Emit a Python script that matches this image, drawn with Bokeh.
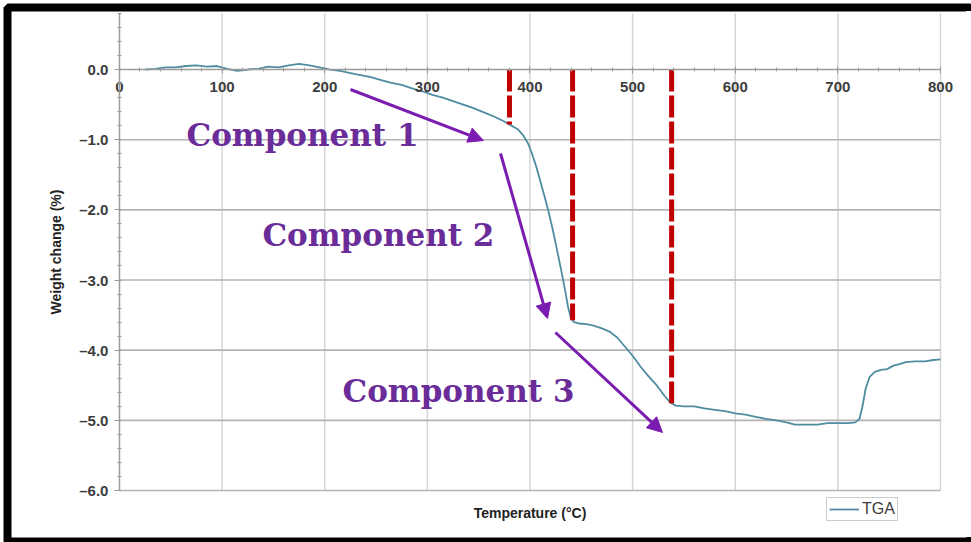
import numpy as np
from bokeh.plotting import figure
from bokeh.models import (LinearAxis, SingleIntervalTicker, FixedTicker,
                          CustomJSTickFormatter, Arrow, NormalHead, Legend, LegendItem)
from bokeh.core.properties import value
from bokeh.embed import file_html
from bokeh.resources import INLINE

# TGA trace: temperature (degC) vs weight change (%)
temperature = [25, 35, 45, 55, 65, 75, 85, 95, 105, 115, 125, 135, 145, 155, 165, 175,
               185, 195, 205, 215, 225, 235, 245, 255, 265, 275, 285, 295, 305, 315,
               325, 335, 345, 355, 365, 375, 382, 388, 393, 398, 402, 406, 410, 414,
               418, 422, 426, 430, 434, 437, 440, 443, 448, 455, 462, 470, 478, 485,
               492, 500, 508, 516, 524, 531, 537, 542, 550, 560, 570, 580, 590, 600,
               610, 620, 630, 640, 650, 658, 670, 680, 690, 700, 710, 717, 721, 724,
               727, 731, 736, 742, 748, 754, 760, 766, 775, 785, 793, 800]
weight_change = [0.00, 0.01, 0.03, 0.03, 0.05, 0.06, 0.04, 0.05, 0.01, -0.02, 0.00, 0.01,
                 0.04, 0.03, 0.06, 0.08, 0.06, 0.03, 0.00, -0.02, -0.05, -0.08, -0.11,
                 -0.15, -0.19, -0.22, -0.27, -0.31, -0.36, -0.40, -0.45, -0.50, -0.55,
                 -0.61, -0.67, -0.74, -0.80, -0.85, -0.93, -1.05, -1.20, -1.38, -1.59,
                 -1.80, -2.02, -2.27, -2.55, -2.83, -3.13, -3.38, -3.55, -3.60, -3.62,
                 -3.63, -3.65, -3.69, -3.74, -3.82, -3.94, -4.08, -4.24, -4.38, -4.51,
                 -4.65, -4.75, -4.79, -4.80, -4.80, -4.83, -4.85, -4.87, -4.90, -4.92,
                 -4.95, -4.98, -5.00, -5.03, -5.06, -5.06, -5.06, -5.04, -5.04, -5.04,
                 -5.03, -4.98, -4.80, -4.55, -4.38, -4.31, -4.28, -4.27, -4.22, -4.20,
                 -4.17, -4.16, -4.16, -4.14, -4.13]

# decomposition step boundaries (degC)
step_bounds = [380, 441.5, 538]

# annotation texts and arrows
component_labels = ["Component 1", "Component 2", "Component 3"]
label_x = [65.3, 139.3, 217.3]
label_y = [-0.937, -2.362, -4.586]
arrow_x0 = [225.1, 371.3, 424.8]
arrow_y0 = [-0.285, -1.197, -3.748]
arrow_x1 = [354.7, 417.1, 529.1]
arrow_y1 = [-1.012, -3.549, -5.173]

# grid positions
x_grid = [100, 200, 300, 400, 500, 600, 700, 800]
y_grid = [-1, -2, -3, -4, -5, -6]
x_bounds = (0, 800)
y_bounds = (-6, 0.8)

CURVE = "#4f8ca2"
AXIS_GREY = "#9c9c9c"
TEXT_GREY = "#3c3c3c"
PURPLE_TEXT = "#6a2c98"
PURPLE_ARROW = "#7a1cb0"

p = figure(width=971, height=542, output_backend="svg", toolbar_location=None,
           x_range=(-109.1, 830.2), y_range=(-6.727, 0.884),
           x_axis_type=None, y_axis_type=None,
           min_border_left=7, min_border_right=0, min_border_top=7, min_border_bottom=1)
p.outline_line_color = "black"
p.outline_line_width = 8
p.background_fill_color = "white"
p.border_fill_color = "white"
# the black frame is open on its right-hand side (top and bottom bands run through)
p.styles = {"clip-path": "polygon(0 0, 100% 0, 100% 11px, calc(100% - 5px) 11px, "
                         "calc(100% - 5px) calc(100% - 5px), 100% calc(100% - 5px), "
                         "100% 100%, 0 100%)"}

# grid lines restricted to the plotted box
p.segment(x0=x_grid, x1=x_grid, y0=y_bounds[0], y1=y_bounds[1],
          line_color="#d6d6d6", line_width=1.5)
p.segment(x0=x_bounds[0], x1=x_bounds[1], y0=y_grid, y1=y_grid,
          line_color="#b4b4b4", line_width=1.6)

fmt = CustomJSTickFormatter(code="""
    const s = Math.abs(tick) < 1e-9 ? '0.0' : tick.toFixed(1);
    return s.replace('-', '\u2013');
""")

# y axis pinned at x = 0
yax = LinearAxis(fixed_location=0, bounds=y_bounds,
                 ticker=SingleIntervalTicker(interval=1, num_minor_ticks=5),
                 formatter=fmt, axis_label="Weight change (%)")
yax.axis_line_color = AXIS_GREY
yax.axis_line_width = 1.5
yax.major_tick_line_color = AXIS_GREY
yax.major_tick_out = 5
yax.major_tick_in = 0
yax.minor_tick_line_color = AXIS_GREY
yax.minor_tick_out = 2
yax.minor_tick_in = 2
yax.major_label_standoff = 6
yax.major_label_text_font = "Liberation Sans"
yax.major_label_text_font_style = "bold"
yax.major_label_text_font_size = "15px"
yax.major_label_text_color = TEXT_GREY
yax.axis_label_standoff = 12
yax.axis_label_text_font = "Liberation Sans"
yax.axis_label_text_font_style = "bold"
yax.axis_label_text_font_size = "14px"
yax.axis_label_text_color = "#222222"
p.add_layout(yax, "left")

# x axis pinned at y = 0
xax = LinearAxis(fixed_location=0, bounds=x_bounds,
                 ticker=SingleIntervalTicker(interval=100, num_minor_ticks=5))
xax.axis_line_color = AXIS_GREY
xax.axis_line_width = 1.5
xax.major_tick_line_color = AXIS_GREY
xax.major_tick_out = 4
xax.major_tick_in = 3
xax.minor_tick_line_color = AXIS_GREY
xax.minor_tick_out = 2
xax.minor_tick_in = 2
xax.major_label_standoff = 8
xax.major_label_text_font = "Liberation Sans"
xax.major_label_text_font_style = "bold"
xax.major_label_text_font_size = "15px"
xax.major_label_text_color = TEXT_GREY
p.add_layout(xax, "below")

# bottom axis carrying the temperature title
bax = LinearAxis(fixed_location=y_bounds[0], bounds=x_bounds, ticker=FixedTicker(ticks=[]),
                 axis_label="Temperature (\u00b0C)")
bax.axis_line_color = None
bax.major_tick_out = 0
bax.major_tick_in = 0
bax.axis_label_standoff = 14
bax.axis_label_text_font = "Liberation Sans"
bax.axis_label_text_font_style = "bold"
bax.axis_label_text_font_size = "14px"
bax.axis_label_text_color = "#222222"
p.add_layout(bax, "below")

# TGA curve
tga = p.line(temperature, weight_change, line_color=CURVE, line_width=1.8)

# step boundaries, dropped from 0 down to the curve
bound_y = np.interp(step_bounds, temperature, weight_change)
p.segment(x0=step_bounds, x1=step_bounds, y0=0, y1=bound_y,
          line_color="#c00000", line_width=5, line_dash="22 4")

# arrows and component labels
for xs, ys, xe, ye in zip(arrow_x0, arrow_y0, arrow_x1, arrow_y1):
    p.add_layout(Arrow(end=NormalHead(size=15, fill_color=PURPLE_ARROW, line_color=PURPLE_ARROW),
                       x_start=xs, y_start=ys, x_end=xe, y_end=ye,
                       line_color=PURPLE_ARROW, line_width=3))

p.text(x=label_x, y=label_y, text=component_labels, text_font=value("DejaVu Serif"),
       text_font_style="bold", text_font_size="31px", text_color=PURPLE_TEXT,
       text_baseline="alphabetic", text_align="left")

legend = Legend(items=[LegendItem(label="TGA", renderers=[tga])],
                location=(819, 20), orientation="vertical",
                glyph_width=30, glyph_height=14, label_height=14, label_standoff=3,
                padding=2, margin=0, spacing=0,
                border_line_color="#9a9a9a", border_line_width=1.5,
                background_fill_color="white", background_fill_alpha=1,
                label_text_font="Liberation Sans", label_text_font_size="16px",
                label_text_color=TEXT_GREY)
p.add_layout(legend)

open("out.html", "w").write(file_html(p, INLINE))
